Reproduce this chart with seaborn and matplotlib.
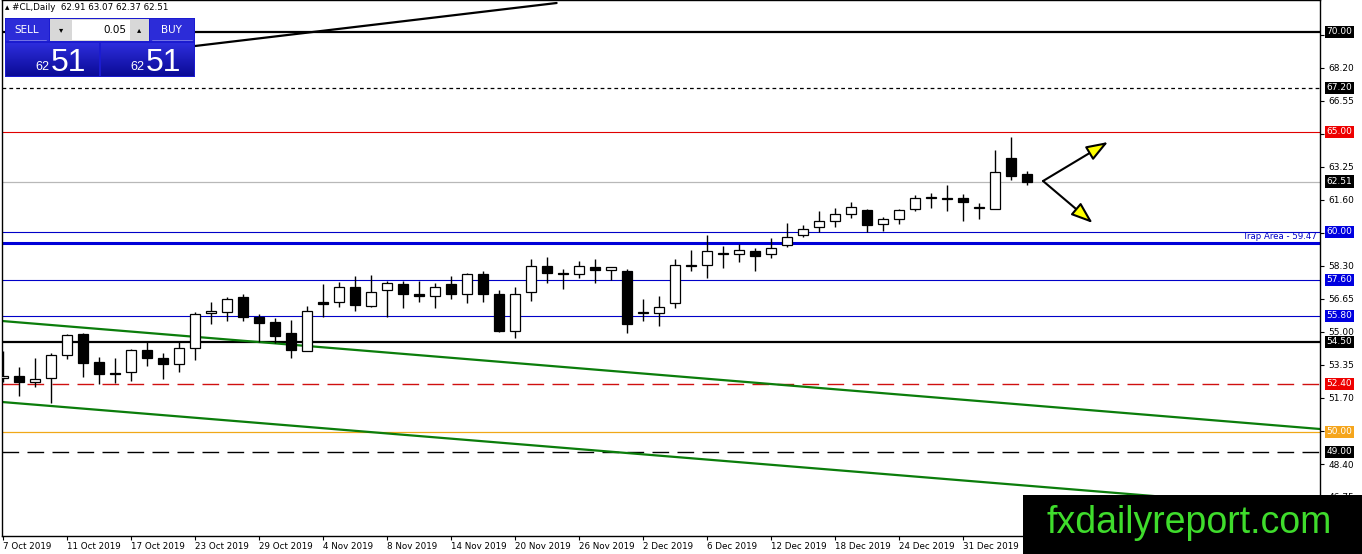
import numpy as np
import pandas as pd
import matplotlib
matplotlib.use("Agg")
import matplotlib.pyplot as plt
import matplotlib.transforms as mtransforms
from matplotlib.patches import Rectangle
import seaborn as sns

# ---------------- data ----------------
date_labels = ["7 Oct 2019", "11 Oct 2019", "17 Oct 2019", "23 Oct 2019", "29 Oct 2019",
               "4 Nov 2019", "8 Nov 2019", "14 Nov 2019", "20 Nov 2019", "26 Nov 2019",
               "2 Dec 2019", "6 Dec 2019", "12 Dec 2019", "18 Dec 2019", "24 Dec 2019",
               "31 Dec 2019"]
date_label_bars = [0, 4, 8, 12, 16, 20, 24, 28, 32, 36, 40, 44, 48, 52, 56, 60]

opens = [52.70, 52.80, 52.50, 52.70, 53.85, 54.90, 53.50, 52.95, 53.00, 54.10,
         53.70, 53.40, 54.20, 55.95, 56.00, 56.75, 55.75, 55.50, 54.95, 54.05,
         56.50, 56.50, 57.25, 56.30, 57.10, 57.40, 56.90, 56.80, 57.40, 56.90,
         57.90, 56.90, 55.05, 57.00, 58.30, 57.95, 57.90, 58.25, 58.10, 58.05,
         55.95, 55.95, 56.45, 58.35, 58.35, 58.88, 58.90, 59.05, 58.90, 59.35,
         59.85, 60.25, 60.55, 60.90, 61.10, 60.40, 60.65, 61.15, 61.68, 61.66,
         61.70, 61.18, 61.15, 63.70, 62.91]
highs = [54.05, 53.25, 53.70, 53.95, 54.90, 54.95, 53.75, 53.70, 54.15, 54.55,
         53.95, 54.55, 56.00, 56.50, 56.75, 56.90, 55.90, 55.70, 55.60, 56.30,
         57.40, 57.50, 57.80, 57.85, 57.55, 57.55, 57.55, 57.45, 57.80, 57.95,
         58.05, 57.10, 57.25, 58.65, 58.75, 58.15, 58.55, 58.65, 58.25, 58.15,
         56.65, 56.80, 58.65, 59.10, 59.85, 59.30, 59.40, 59.20, 59.70, 60.45,
         60.35, 61.05, 61.20, 61.50, 61.15, 60.75, 61.15, 61.85, 61.95, 62.35,
         61.90, 61.45, 64.10, 64.75, 63.07]
lows = [52.50, 51.80, 52.25, 51.45, 53.65, 52.75, 52.40, 52.45, 52.55, 53.30,
        52.65, 53.00, 53.60, 55.40, 55.55, 55.55, 54.50, 54.45, 53.70, 54.05,
        55.75, 56.25, 56.05, 56.25, 55.75, 56.20, 56.50, 56.20, 56.65, 56.45,
        56.50, 55.00, 54.70, 56.55, 57.45, 57.15, 57.70, 57.45, 57.60, 54.95,
        55.55, 55.30, 56.20, 58.05, 57.70, 58.20, 58.50, 58.05, 58.70, 59.25,
        59.75, 60.00, 60.25, 60.70, 60.00, 60.05, 60.40, 61.05, 61.20, 61.05,
        60.55, 60.65, 61.15, 62.60, 62.37]
closes = [52.80, 52.50, 52.65, 53.85, 54.85, 53.45, 52.90, 52.90, 54.10, 53.70,
          53.40, 54.20, 55.90, 56.05, 56.65, 55.75, 55.45, 54.80, 54.10, 56.05,
          56.40, 57.25, 56.35, 57.00, 57.45, 56.90, 56.80, 57.25, 56.90, 57.90,
          56.90, 55.05, 56.90, 58.30, 57.95, 57.90, 58.30, 58.10, 58.25, 55.40,
          56.00, 56.25, 58.35, 58.30, 59.05, 58.92, 59.10, 58.80, 59.20, 59.75,
          60.15, 60.55, 60.90, 61.25, 60.35, 60.65, 61.10, 61.70, 61.72, 61.64,
          61.50, 61.22, 63.00, 62.80, 62.51]

axis_ticks = [69.85, 68.20, 66.55, 64.90, 63.25, 61.60, 59.95, 58.30, 56.65,
              55.00, 53.35, 51.70, 50.05, 48.40, 46.75]
# tick values whose labels sit hidden behind a coloured price label
hidden_ticks = [69.85, 64.90, 59.95, 50.05]

level_prices = [70.00, 67.20, 65.00, 62.51, 60.00, 59.47, 57.60, 55.80, 54.50, 52.40, 50.00, 49.00]
level_labels = ["70.00", "67.20", "65.00", "62.51", "60.00", None, "57.60", "55.80", "54.50", "52.40", "50.00", "49.00"]

# trend lines (bar index, price)
upper_green_x = [-0.06, 82.31]
upper_green_y = [55.55, 50.15]
lower_green_x = [-0.06, 82.31]
lower_green_y = [51.50, 46.12]
black_trend_x = [12.0, 34.6]
black_trend_y = [69.30, 71.45]

arrow_start = (65.0, 62.55)
arrow_up_end = (69.06, 64.50)
arrow_down_end = (68.1, 60.45)

# ---------------- styling ----------------
W, H = 1362, 554
sns.set_theme(style="white")
plt.rcParams['font.family'] = ['DejaVu Sans']

fig = plt.figure(figsize=(W / 100, H / 100), dpi=100)
fig.patch.set_facecolor("white")
ax = fig.add_axes([2 / W, (H - 536) / H, 1318 / W, 536 / H])
ax.set_facecolor("white")
ax.set_xlim(-0.0625, 82.31)
ax.set_ylim(44.8, 71.6)
for s in ax.spines.values():
    s.set_color("black")
    s.set_linewidth(1.0)

# levels
level_styles = {
    70.00: dict(color="black", lw=1.6, ls="-"),
    67.20: dict(color="black", lw=0.9, ls=(0, (3, 2.5))),
    65.00: dict(color="#e00000", lw=0.8, ls="-"),
    62.51: dict(color="#b8b8b8", lw=0.9, ls="-"),
    60.00: dict(color="#0000c8", lw=0.8, ls="-"),
    59.47: dict(color="#0000d8", lw=2.2, ls="-"),
    57.60: dict(color="#0000c8", lw=0.8, ls="-"),
    55.80: dict(color="#0000c8", lw=0.8, ls="-"),
    54.50: dict(color="black", lw=1.6, ls="-"),
    52.40: dict(color="#d01010", lw=1.0, ls=(0, (12, 6))),
    50.00: dict(color="#f0a818", lw=0.9, ls="-"),
    49.00: dict(color="black", lw=1.0, ls=(0, (12, 6))),
}
for p in level_prices:
    st = level_styles[p]
    ax.axhline(p, color=st["color"], lw=st["lw"], ls=st["ls"], zorder=1)

# trend lines via seaborn
tl = pd.DataFrame({"x": upper_green_x, "y": upper_green_y})
sns.lineplot(data=tl, x="x", y="y", ax=ax, color="#0b7d0b", lw=1.6, zorder=1.5)
tl2 = pd.DataFrame({"x": lower_green_x, "y": lower_green_y})
sns.lineplot(data=tl2, x="x", y="y", ax=ax, color="#0b7d0b", lw=1.6, zorder=1.5)
tl3 = pd.DataFrame({"x": black_trend_x, "y": black_trend_y})
sns.lineplot(data=tl3, x="x", y="y", ax=ax, color="black", lw=1.6, zorder=1.5)

# candles
o = np.array(opens); h = np.array(highs); l = np.array(lows); c = np.array(closes)
xs = np.arange(len(o))
ax.vlines(xs, l, h, color="black", lw=1.0, zorder=2)
up = c >= o
bottoms = np.minimum(o, c)
heights = np.maximum(np.abs(c - o), 0.05)
ax.bar(xs[up], heights[up], bottom=bottoms[up], width=0.62, color="white",
       edgecolor="black", linewidth=0.9, zorder=3)
ax.bar(xs[~up], heights[~up], bottom=bottoms[~up], width=0.62, color="black",
       edgecolor="black", linewidth=0.9, zorder=3)

# arrows
for end in (arrow_up_end, arrow_down_end):
    ax.annotate("", xy=end, xytext=arrow_start,
                arrowprops=dict(arrowstyle="-|>,head_length=1.1,head_width=0.4",
                                fc="#ffff00", ec="black", lw=1.5,
                                shrinkA=0, shrinkB=0), zorder=4)

btr = mtransforms.blended_transform_factory(ax.transAxes, ax.transData)
# trap area text
ax.text(1.0 - 3 / 1318, 59.47 + 0.08, "Trap Area - 59.47", transform=btr,
        ha="right", va="bottom", color="#0000c8", fontsize=6.2, zorder=5)

# axes ticks
ax.yaxis.tick_right()
ax.set_yticks(axis_ticks)
ax.set_yticklabels(["" if t in hidden_ticks else f"{t:.2f}" for t in axis_ticks])
ax.tick_params(axis="y", direction="out", length=3, width=0.8, labelsize=6.5, pad=3,
               colors="black", right=True, left=False)
ax.set_xticks(date_label_bars)
ax.set_xticklabels(date_labels, ha="left")
ax.tick_params(axis="x", direction="out", length=3, width=0.8, labelsize=6.3, pad=1.5,
               colors="black", bottom=True)
ax.set_xlabel(""); ax.set_ylabel("")

# right-side colored price labels
label_bg = {70.00: "black", 67.20: "black", 65.00: "#ee0000", 62.51: "black",
            60.00: "#0000e0", 57.60: "#0000e0", 55.80: "#0000e0", 54.50: "black",
            52.40: "#ee0000", 50.00: "#f5a51c", 49.00: "black"}
for p, lab in zip(level_prices, level_labels):
    if lab is None:
        continue
    ax.text(1.0 + 6.5 / 1318, p, lab, transform=btr, ha="left", va="center",
            color="white", fontsize=6.5, clip_on=False, zorder=6,
            bbox=dict(boxstyle="square,pad=0.22", fc=label_bg[p], ec="none"))

# ---------------- overlay (panel, header, watermark) ----------------
ov = fig.add_axes([0, 0, 1, 1], zorder=10)
ov.set_xlim(0, W); ov.set_ylim(H, 0); ov.axis("off")
ov.patch.set_alpha(0)

ov.text(5, 8, "\u25b4 #CL,Daily  62.91 63.07 62.37 62.51", fontsize=6.3, va="center", ha="left", color="black")

ov.add_patch(Rectangle((5, 18), 190, 59, fc="#1b1bd0", ec="none"))
ov.add_patch(Rectangle((6, 19), 43, 22, fc="#2c2cd8", ec="none"))
ov.plot([9, 46], [40, 40], color="#8080e8", lw=0.6)
ov.text(27, 30, "SELL", color="white", fontsize=7.5, ha="center", va="center")
ov.add_patch(Rectangle((50, 19), 99, 22, fc="#d8d8d8", ec="none"))
ov.add_patch(Rectangle((72, 20), 58, 20, fc="white", ec="none"))
ov.text(61, 30, "\u25be", fontsize=6, ha="center", va="center", color="black")
ov.text(139, 29.5, "\u25b4", fontsize=6, ha="center", va="center", color="black")
ov.text(126, 30, "0.05", fontsize=7.5, ha="right", va="center", color="black")
ov.add_patch(Rectangle((150, 19), 44, 22, fc="#2c2cd8", ec="none"))
ov.plot([152, 192], [40, 40], color="#8080e8", lw=0.6)
ov.text(171, 30, "BUY", color="white", fontsize=7.5, ha="center", va="center")
grad = np.linspace(0, 1, 64).reshape(-1, 1)
cmap = matplotlib.colors.LinearSegmentedColormap.from_list("g", ["#2d2ddc", "#0b0b96"])
for x0, x1 in ((6, 99), (101, 194)):
    ov.imshow(grad, extent=(x0, x1, 76, 43), cmap=cmap, aspect="auto", zorder=2)
    ov.text(x0 + 43, 70, "62", color="white", fontsize=9, ha="right", va="baseline",
            family="Liberation Sans", zorder=3)
    ov.text(x0 + 45, 71, "51", color="white", fontsize=23, ha="left", va="baseline",
            family="Liberation Sans", zorder=3)

ov.add_patch(Rectangle((1023, 495), 339, 59, fc="black", ec="none", zorder=5))
ov.text(1189, 523, "fxdailyreport.com", color="#3fdc2c", fontsize=27,
        family="Liberation Sans", ha="center", va="center", zorder=6)

fig.savefig("out.png", dpi=100)
